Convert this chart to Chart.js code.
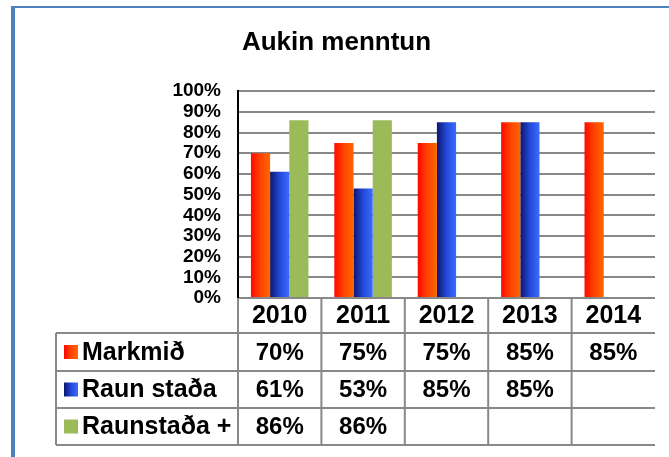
<!DOCTYPE html>
<html>
<head>
<meta charset="utf-8">
<script src="https://cdn.jsdelivr.net/npm/chart.js@4"></script>
<style>
    body { margin: 0; background: #fff; }
    #frame {
        position: absolute; left: 11px; top: 6px; right: 0; bottom: 0;
        border-left: 4px solid #4f81bd; border-top: 2px solid #4f81bd;
    }
    #chart { position: absolute; left: 0; top: 0; }
</style>
</head>
<body>
<div id="frame"></div>
<canvas id="chart" width="669" height="457"></canvas>
<script>
const years = ['2010', '2011', '2012', '2013', '2014'];
const markmid = [70, 75, 75, 85, 85];
const raunStada = [61, 53, 85, 85, null];
const raunStadaPlus = [86, 86, null, null, null];
const seriesNames = ['Markmið', 'Raun staða', 'Raunstaða +'];

// litir: vinstri -> haegri hallandi fylling
const fills = [
    ['#ff0800', '#ff4400', '#ff6600'],
    ['#0b1670', '#2448d8', '#3a6cff'],
    ['#9bbb59', '#9bbb59'],
];
const FONT = '"Liberation Sans", Arial, sans-serif';

function makeGradient(g, left, width, stops) {
    const grad = g.createLinearGradient(left, 0, left + width, 0);
    stops.forEach((c, k) => grad.addColorStop(k / (stops.length - 1), c));
    return grad;
}

const barGradients = {
    id: 'barGradients',
    beforeDatasetsDraw(chart) {
        const g = chart.ctx;
        chart.data.datasets.forEach((ds, i) => {
            chart.getDatasetMeta(i).data.forEach((bar) => {
                const left = bar.x - bar.width / 2;
                const grad = makeGradient(g, left, bar.width, fills[i]);
                bar.options = Object.assign({}, bar.options, { backgroundColor: grad });
            });
        });
    },
};

const dataTable = {
    id: 'dataTable',
    afterDraw(chart) {
        const g = chart.ctx;
        const xs = chart.scales.x;
        const area = chart.chartArea;
        const colW = xs.width / years.length;
        const tableLeft = 56;
        const lines = [area.bottom + 35, area.bottom + 73, area.bottom + 110, area.bottom + 147];
        const rowsData = [markmid, raunStada, raunStadaPlus];

        g.save();
        g.strokeStyle = '#888';
        g.lineWidth = 2;
        g.beginPath();
        lines.forEach((y) => {
            g.moveTo(tableLeft, y);
            g.lineTo(area.right, y);
        });
        g.moveTo(tableLeft, lines[0]);
        g.lineTo(tableLeft, lines[3]);
        for (let i = 0; i < years.length; i++) {
            const bx = xs.getPixelForValue(i) - colW / 2;
            g.moveTo(bx, area.bottom);
            g.lineTo(bx, lines[3]);
        }
        g.stroke();

        g.fillStyle = '#000';
        g.textBaseline = 'middle';
        rowsData.forEach((vals, r) => {
            const cy = (lines[r] + lines[r + 1]) / 2;
            g.fillStyle = makeGradient(g, 64, 14, fills[r]);
            g.fillRect(64, cy - 7, 14, 14);
            g.fillStyle = '#000';
            g.textAlign = 'left';
            g.font = 'bold 25px ' + FONT;
            g.fillText(seriesNames[r], 82, cy + 1);
            g.textAlign = 'center';
            g.font = 'bold 24px ' + FONT;
            vals.forEach((v, i) => {
                if (v === null) return;
                g.fillText(v + '%', xs.getPixelForValue(i), cy + 1);
            });
        });
        g.restore();
    },
};

new Chart(document.getElementById('chart'), {
    type: 'bar',
    data: {
        labels: years,
        datasets: [
            { label: seriesNames[0], data: markmid, backgroundColor: '#ff4400' },
            { label: seriesNames[1], data: raunStada, backgroundColor: '#2448d8' },
            { label: seriesNames[2], data: raunStadaPlus, backgroundColor: '#9bbb59' },
        ],
    },
    options: {
        responsive: false,
        animation: false,
        devicePixelRatio: 1,
        layout: { padding: { left: 18, right: 14, top: 0, bottom: 123 } },
        datasets: { bar: { barPercentage: 1, categoryPercentage: 0.69 } },
        plugins: {
            legend: { display: false },
            tooltip: { enabled: false },
            title: {
                display: true,
                text: 'Aukin menntun',
                color: '#000',
                font: { family: FONT, size: 26, weight: 'bold' },
                padding: { top: 27, bottom: 33 },
            },
        },
        scales: {
            x: {
                grid: { display: false, drawTicks: false },
                border: { display: false },
                ticks: { color: '#000', padding: 3, font: { family: FONT, size: 25, weight: 'bold' } },
            },
            y: {
                min: 0,
                max: 100,
                afterFit: (scale) => { scale.width = 220; },
                grid: { color: '#888', lineWidth: 2, drawTicks: false },
                border: { color: '#000', width: 2 },
                ticks: {
                    stepSize: 10,
                    autoSkip: false,
                    padding: 17,
                    color: '#000',
                    font: { family: FONT, size: 19, weight: 'bold', lineHeight: 1 },
                    callback: (v) => v + '%',
                },
            },
        },
    },
    plugins: [barGradients, dataTable],
});
</script>
</body>
</html>
